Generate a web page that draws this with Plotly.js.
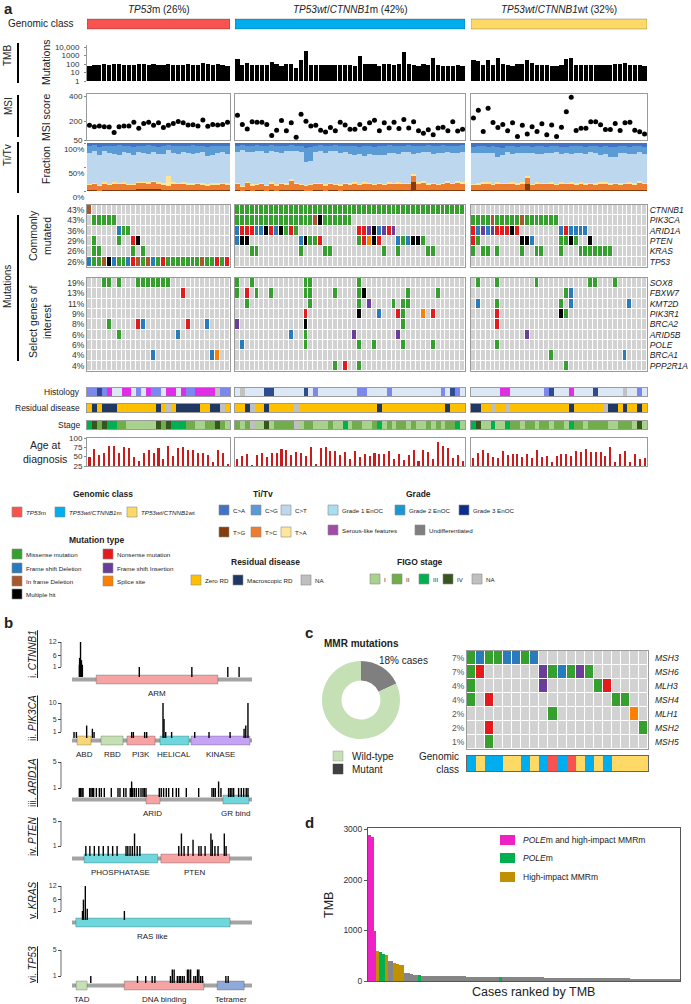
<!DOCTYPE html>
<html><head><meta charset="utf-8">
<script src="https://cdn.plot.ly/plotly-3.0.1.min.js"></script>
<style>html,body{margin:0;padding:0;background:#fff}#chart{width:691px;height:1004px}</style>
</head><body><div id="chart"></div>
<script>
// ================= DATA =================
const groupTitles = ['<i>TP53</i>m (26%)', '<i>TP53wt</i>/<i>CTNNB1</i>m (42%)', '<i>TP53wt</i>/<i>CTNNB1</i>wt (32%)'];
const groupSizes = [29, 47, 36];

const tmb = [
 55,70,75,90,70,110,90,75,75,80,95,110,80,100,85,70,95,80,75,80,100,75,80,120,90,80,100,85,60,
 370,85,140,75,75,75,75,165,90,60,95,115,36,300,3100,75,75,75,85,75,75,75,70,70,65,980,90,90,115,60,90,90,85,90,2600,90,75,60,90,75,570,75,60,60,65,70,65,
 280,240,75,300,80,470,95,75,60,100,110,300,150,75,70,75,65,60,75,440,450,75,75,75,70,75,80,80,85,95,110,120,75,70,70,60];

const msi = [
 167,156,162,156,154,110,156,162,162,192,144,182,192,167,187,149,167,182,197,187,169,172,162,210,159,174,169,174,192,
 246,174,138,195,192,192,174,85,128,205,123,187,72,254,200,162,167,128,113,149,123,192,170,136,136,174,141,187,208,123,187,146,192,141,213,146,195,123,103,131,92,146,151,123,195,121,136,
 226,287,118,303,190,149,174,123,187,77,167,97,156,118,179,92,169,77,151,274,390,126,144,144,195,195,172,133,133,182,126,187,192,128,115,97];

const tvTG = [
 2,2,1,3,2,2,3,2,2,3,4,4,5,5,4,3,2,3,2,3,3,2,2,3,2,2,3,2,2,
 2,1,2,1,2,2,1,2,1,2,2,3,2,2,1,1,2,2,1,2,2,1,2,2,3,2,2,2,2,2,2,3,2,2,2,3,18,3,3,2,2,2,3,3,2,3,2,
 2,2,3,2,2,2,3,2,2,2,3,14,2,2,3,2,2,2,3,2,2,2,3,2,2,2,2,3,2,2,3,2,2,2,3,2];
const tvTC = [
 10,12,9,11,10,12,11,13,10,9,12,12,10,13,11,10,8,11,12,12,10,11,12,10,9,11,10,12,11,
 12,8,14,10,11,12,9,13,10,12,11,18,12,10,9,11,12,13,10,12,11,10,12,11,12,10,13,12,11,12,10,11,12,13,12,11,14,12,13,11,12,10,11,13,12,14,12,
 10,11,12,13,10,12,11,12,13,11,12,14,10,12,11,12,13,10,11,12,13,11,12,10,12,11,13,12,11,12,10,12,13,11,14,12];
const tvTA = [
 3,2,3,4,3,4,3,3,3,2,3,3,4,3,3,3,22,4,3,3,3,4,3,4,3,3,3,3,3,
 3,2,3,3,2,3,2,3,3,2,3,4,3,2,2,3,3,2,3,3,2,3,3,3,4,3,3,3,2,3,3,4,3,3,3,3,3,3,4,3,3,3,3,4,3,3,4,
 3,3,4,3,3,4,3,3,3,4,3,3,3,4,3,3,3,3,4,3,3,3,3,4,3,3,3,3,4,3,3,3,3,3,4,3];
const tvCT = [
 64,67,61,66,64,59,58,64,64,62,63,61,58,61,59,61,53,62,61,63,63,61,62,65,58,60,63,65,61,
 65,74,63,67,68,67,67,66,68,64,68,58,66,67,48,48,65,67,66,67,68,66,65,62,56,62,55,60,61,57,61,62,63,59,65,65,43,62,62,66,61,65,62,62,63,59,63,
 65,64,60,61,64,52,59,64,60,63,62,49,64,60,61,63,61,66,59,62,59,64,62,61,65,63,58,60,54,53,64,63,59,61,61,61];
const tvCG = [
 14,12,18,10,15,16,20,12,14,16,12,14,18,12,15,16,10,14,16,12,15,17,14,12,20,18,14,12,16,
 12,10,11,13,12,10,14,11,12,13,10,12,11,12,30,28,12,11,13,10,12,14,11,16,18,15,20,17,16,19,18,15,14,16,12,13,15,14,12,13,15,14,16,12,13,15,14,
 12,13,15,12,14,22,14,13,15,12,14,13,12,15,16,12,14,13,15,12,16,14,13,15,12,14,16,15,20,22,14,13,15,16,12,14];
const tvCA = [
 7,5,8,6,6,7,5,6,7,8,6,6,5,6,8,7,5,6,6,7,6,5,7,6,8,6,7,6,7,
 6,5,7,6,5,6,7,5,6,7,6,5,6,7,10,9,6,5,7,6,5,6,7,6,7,8,7,6,8,7,6,5,6,7,6,5,7,6,6,5,7,6,5,6,7,6,5,
 8,7,6,9,7,8,10,6,7,8,6,7,9,7,6,8,7,6,8,9,7,6,7,8,6,7,8,7,9,8,6,7,8,7,6,8];

// mutation codes: 0 none,1 missense,2 FS del,3 in-frame del,4 multiple hit,5 nonsense,6 FS ins,7 splice
const commonGenes = ['CTNNB1','PIK3CA','ARID1A','PTEN','KRAS','TP53'];
const commonPct = ['43%','43%','36%','29%','26%','26%'];
const selectGenes = ['SOX8','FBXW7','KMT2D','PIK3R1','BRCA2','ARID5B','POLE','BRCA1','PPP2R1A'];
const selectPct = ['19%','13%','11%','9%','8%','6%','6%','4%','4%'];

const mut_CTNNB1 = [
 3,0,0,0,0,0,0,0,0,0, 0,0,0,0,0,0,0,0,0,0, 0,0,0,0,0,0,0,0,0,
 1,1,1,1,1,1,1,1,1,1, 1,1,1,1,1,1,1,1,1,1, 1,1,1,1,1,1,1,1,1,1, 1,1,1,1,1,1,1,1,1,1, 1,1,1,1,1,1,1,
 0,0,0,0,0,0,0,0,0,0, 0,0,0,0,0,0,0,0,0,0, 0,0,0,0,0,0,0,0,0,0, 0,0,0,0,0,0];
const mut_PIK3CA = [
 0,1,1,1,1,1,0,0,0,0, 0,0,0,0,0,0,0,0,0,0, 0,0,0,0,0,0,0,0,0,
 1,1,1,1,1,1,1,1,1,1, 1,1,1,1,1,1,3,4,1,1, 1,1,1,1,0,0,0,0,0,0, 0,0,0,0,0,0,0,0,0,0, 0,0,0,0,0,0,0,
 1,1,1,1,3,1,1,1,1,1, 3,1,1,1,1,1,1,1,0,0, 0,0,0,0,0,0,0,0,0,0, 0,0,0,0,0,0];
const mut_ARID1A = [
 0,0,0,0,0,0,2,1,1,0, 0,0,0,0,0,0,0,0,0,0, 0,0,0,0,0,0,0,0,0,
 2,5,5,5,2,2,4,5,2,4, 1,5,1,0,0,0,0,0,0,0, 0,0,0,0,0,5,5,6,4,2, 6,5,6,0,0,0,0,0,0,0, 0,0,0,0,0,0,0,
 5,2,6,2,6,5,5,5,4,5, 0,0,0,0,0,0,0,0,2,5, 2,2,2,2,0,0,0,0,0,0, 0,0,0,0,0,0];
const mut_PTEN = [
 0,1,0,0,0,0,1,0,0,5, 4,0,0,0,0,0,0,0,0,0, 0,0,0,0,0,0,0,0,0,
 2,4,4,0,0,0,0,0,0,0, 0,0,0,2,4,1,1,5,0,0, 0,0,0,0,0,1,5,7,4,5, 0,0,0,2,1,2,4,4,1,0, 0,0,0,0,0,0,0,
 5,1,0,0,0,0,0,0,0,0, 4,4,2,0,0,0,0,0,1,1, 4,1,0,0,4,0,0,0,0,0, 0,0,0,0,0,0];
const mut_KRAS = [
 0,1,1,0,0,0,0,0,0,1, 0,1,0,0,0,0,0,0,0,0, 0,0,0,0,0,0,0,0,0,
 0,0,0,1,1,0,0,0,0,0, 0,0,0,1,0,0,0,0,1,1, 0,0,0,0,0,0,0,0,0,0, 1,0,0,1,0,0,0,0,0,1, 1,0,0,0,0,0,0,
 1,0,1,1,0,1,0,0,0,0, 1,0,0,1,1,0,0,0,1,0, 0,0,1,1,1,1,1,1,1,0, 0,0,0,0,0,0];
const mut_TP53 = [
 2,1,1,3,4,2,1,1,2,5, 3,1,3,2,1,5,1,1,1,1, 1,1,1,3,1,1,5,1,5,
 0,0,0,0,0,0,0,0,0,0, 0,0,0,0,0,0,0,0,0,0, 0,0,0,0,0,0,0,0,0,0, 0,0,0,0,0,0,0,0,0,0, 0,0,0,0,0,0,0,
 0,0,0,0,0,0,0,0,0,0, 0,0,0,0,0,0,0,0,0,0, 0,0,0,0,0,0,0,0,0,0, 0,0,0,0,0,0];
const mut_SOX8 = [
 0,0,0,1,1,0,1,0,0,0, 1,1,1,1,1,1,1,0,0,0, 0,0,0,0,0,0,0,0,0,
 1,0,0,1,0,0,0,0,0,0, 0,0,0,0,1,1,0,0,0,0, 0,0,0,0,0,1,0,0,0,0, 0,0,0,0,0,0,0,0,0,0, 0,0,0,0,0,0,0,
 0,1,0,0,0,1,0,0,0,0, 0,0,0,1,0,0,0,0,0,0, 0,0,0,0,1,1,0,0,0,1, 0,0,0,0,0,0];
const mut_FBXW7 = [
 0,0,0,0,0,0,0,0,0,0, 0,0,0,0,0,0,0,0,0,5, 0,0,0,0,0,0,0,0,0,
 1,0,5,0,1,0,0,1,0,0, 0,0,0,0,1,1,0,0,0,0, 1,0,0,0,0,1,4,0,0,0, 0,0,0,0,0,1,0,0,0,0, 0,1,0,0,0,0,0,
 0,0,0,0,0,0,0,0,0,0, 0,0,0,0,0,0,0,0,0,1, 2,0,0,0,0,0,0,0,0,0, 0,0,0,0,0,0];
const mut_KMT2D = [
 0,0,0,0,0,0,0,0,0,0, 0,0,0,0,0,0,0,0,0,0, 0,0,0,0,0,0,0,0,0,
 0,0,1,0,0,0,0,0,0,0, 0,0,0,0,0,1,0,0,0,0, 0,0,0,0,0,1,0,6,0,0, 0,0,1,0,1,1,0,0,0,0, 0,0,0,0,0,0,0,
 0,2,0,0,0,1,0,0,0,0, 0,0,0,0,0,0,0,0,1,0, 2,0,0,0,0,0,0,0,0,0, 0,0,2,0,0,0];
const mut_PIK3R1 = [
 0,0,0,0,0,0,0,0,0,0, 0,0,0,0,0,0,0,0,0,0, 0,0,0,0,0,0,0,0,0,
 0,0,0,0,0,0,0,0,0,0, 0,0,0,0,5,0,0,0,0,0, 0,0,0,0,0,4,0,0,0,2, 0,0,0,5,1,0,0,0,7,0, 5,0,0,0,0,0,0,
 0,0,0,0,0,5,0,0,0,0, 0,0,0,0,0,0,0,0,4,1, 0,0,0,0,0,0,0,0,0,0, 0,0,0,0,0,0];
const mut_BRCA2 = [
 0,0,0,0,1,0,0,0,0,0, 5,2,0,0,0,0,0,0,0,0, 5,0,0,0,2,0,0,0,0,
 6,0,0,0,0,0,0,0,0,0, 0,0,0,0,4,0,0,0,0,0, 0,0,0,0,0,0,0,0,0,0, 0,0,0,0,1,0,0,0,0,0, 0,0,0,0,0,0,0,
 0,0,0,0,0,5,0,0,0,0, 0,0,0,0,0,0,0,0,0,0, 0,0,0,0,0,0,0,0,0,0, 0,0,0,0,0,0];
const mut_ARID5B = [
 0,0,0,0,0,0,1,0,0,0, 0,0,0,0,0,0,0,0,2,0, 0,0,0,0,0,0,0,0,0,
 0,0,0,0,0,0,0,0,0,0, 0,2,0,0,1,0,0,0,0,0, 0,0,0,0,6,0,0,0,0,0, 0,0,0,6,0,0,0,0,0,0, 0,0,0,0,0,0,0,
 0,0,0,0,0,0,0,0,0,0, 0,6,0,0,0,0,0,0,0,0, 0,0,0,0,0,0,0,0,0,0, 0,0,0,0,0,0];
const mut_POLE = [
 0,0,0,0,0,0,0,0,0,0, 0,0,0,0,0,0,0,0,0,0, 0,0,0,0,0,0,0,0,0,
 0,2,0,0,0,0,0,0,0,0, 0,0,0,0,1,0,0,0,0,0, 0,0,0,0,0,1,0,0,1,0, 0,0,0,0,1,0,0,0,0,0, 1,0,0,0,0,0,0,
 0,0,0,0,0,1,0,0,0,0, 0,0,0,0,0,0,0,0,0,0, 0,0,0,0,0,0,0,0,0,0, 0,0,0,0,0,0];
const mut_BRCA1 = [
 0,0,0,0,0,0,0,0,0,0, 0,0,0,2,0,0,0,0,0,0, 0,0,0,0,0,2,7,0,0,
 0,0,0,0,0,0,0,0,0,0, 0,0,0,0,0,0,0,0,0,0, 0,0,0,0,0,0,0,0,0,0, 0,0,0,0,0,0,0,0,0,0, 0,0,0,0,0,0,0,
 0,0,0,0,0,0,0,0,0,0, 0,0,0,0,0,0,1,0,0,0, 0,0,0,0,0,0,0,0,0,0, 0,2,0,0,0,0];
const mut_PPP2R1A = [
 0,0,0,0,0,0,0,0,0,0, 0,0,0,0,0,0,0,0,0,0, 0,0,0,0,0,0,0,0,0,
 0,0,0,0,0,0,0,0,0,0, 0,0,0,0,0,0,0,0,0,0, 1,0,5,0,0,1,0,0,0,0, 0,0,0,0,0,0,0,0,0,0, 0,0,0,0,0,0,0,
 0,0,0,0,0,0,0,0,0,0, 0,0,0,0,0,0,0,0,0,1, 0,0,0,0,0,0,0,0,0,0, 0,0,0,0,0,0];

// histology: 1 G1, 2 G2, 3 G3, 4 serous-like, 5 undifferentiated
const histology = [
 2,2,3,2,4,1,1,4,4,1,2,1,4,2,2,1,4,4,1,4,2,2,4,4,4,4,5,2,2,
 1,5,1,1,1,1,3,3,1,1,1,1,1,1,3,1,2,1,1,1,1,1,1,1,1,2,2,1,1,1,1,2,1,1,1,1,1,1,1,1,1,1,2,1,3,2,1,
 1,1,1,1,1,1,4,4,1,1,1,1,1,1,1,2,3,1,1,1,4,1,1,1,1,3,1,1,1,1,1,5,1,1,2,1];
// residual disease: 1 zero, 2 macroscopic, 3 NA
const residual = [
 1,2,1,2,2,2,1,1,1,1,1,1,1,1,2,1,3,1,2,2,2,2,2,1,1,2,2,3,1,
 1,1,2,3,1,1,2,1,1,1,1,1,3,1,1,1,1,1,1,1,1,1,1,1,1,1,1,1,1,2,1,1,1,1,1,1,1,1,1,1,1,1,1,2,1,1,1,
 2,2,1,1,3,1,1,3,1,1,1,1,1,1,1,1,1,1,1,1,2,1,1,1,1,1,1,3,2,2,1,2,1,1,2,1];
// FIGO stage: 1 I, 2 II, 3 III, 4 IV, 5 NA
const stage = [
 3,4,2,4,3,3,2,2,1,1,1,1,1,1,4,2,4,3,3,3,2,2,1,1,2,2,4,2,1,
 2,1,2,5,1,1,4,1,2,2,2,2,5,1,2,2,1,1,1,2,1,1,3,1,2,2,1,1,2,3,1,2,1,2,2,1,2,1,1,2,1,2,1,2,2,3,1,
 3,4,1,1,3,1,1,3,2,2,1,2,2,1,2,2,1,2,2,1,3,2,2,1,2,2,2,2,1,1,2,2,2,1,4,1];
const age = [
 48,70,55,61,78,78,59,76,74,49,39,59,69,59,73,44,78,51,73,75,69,69,61,59,55,37,69,59,31,
 44,52,58,27,55,61,48,59,61,70,67,54,63,59,53,75,30,74,76,65,65,54,62,43,66,49,56,52,61,56,58,64,45,58,41,54,67,39,69,62,43,88,79,74,47,55,39,
 47,60,67,61,50,47,66,54,56,56,48,57,47,69,48,51,36,51,56,56,51,66,63,70,63,62,63,52,75,37,58,66,37,58,44,47];

// legend labels
const gcLabels = ['<i>TP53</i>m', '<i>TP53wt</i>/<i>CTNNB1</i>m', '<i>TP53wt</i>/<i>CTNNB1</i>wt'];
const mutLabels = ['Missense mutation','Frame shift Deletion','In frame Deletion','Multiple hit','Nonsense mutation','Frame shift Insertion','Splice site'];
const tvLabels = ['C&gt;A','C&gt;G','C&gt;T','T&gt;G','T&gt;C','T&gt;A'];
const rdLabels = ['Zero RD','Macroscopic RD','NA'];
const gradeLabels = ['Grade 1 EnOC','Grade 2 EnOC','Grade 3 EnOC','Serous-like features','Undifferentiated'];
const stageLabels = ['I','II','III','IV','NA'];

// panel b: lollipops (protein position, number of cases) and domains [name, start, end]
const ctnnb1Pos = [32,33,34,35,37,41,45,292,520,676,725];
const ctnnb1Cnt = [2,5,4,3,12,4,2,1,1,1,1];
const ctnnb1Dom = [['ARM',105,633]];
const pik3caPos = [12,26,87,121,131,354,364,431,443,540,546,556,591,728,813,938,1021,1031,1044];
const pik3caCnt = [1,1,3,2,1,1,1,1,1,10,5,1,1,1,1,1,2,3,10];
const pik3caDom = [['ABD',30,113],['RBD',172,303],['PI3K',326,493],['HELICAL',522,694],['KINASE',706,1056]];
const arid1aPos = [93,110,127,140,224,241,258,275,309,347,372,410,499,584,609,656,685,740,757,770,791,816,846,876,901,918,939,1108,1133,1163,1197,1227,1278,1324,1354,1451,1608,1777,1798,1819,1861,1891,1988,2009,2030,2052,2115,2149,2179,2212,2234];
const arid1aCnt = [1,1,1,1,1,1,1,1,1,1,1,1,1,1,1,1,1,1,2,1,1,1,1,1,1,1,1,1,1,1,1,1,1,1,1,1,1,1,1,1,2,1,1,1,1,1,1,1,1,1,1];
const arid1aDom = [['ARID',939,1117],['GR bind',1916,2246]];
const ptenPos = [31,40,50,60,70,81,91,101,121,125,130,135,140,146,152,239,245,251,260,271,284,289,298,311,314,320,327,341,345];
const ptenCnt = [1,1,1,1,1,1,1,1,1,1,1,1,3,1,1,1,3,1,1,2,1,1,1,3,2,1,1,3,1];
const ptenDom = [['PHOSPHATASE',27,192],['PTEN',199,353]];
const krasPos = [11,12,14,16,55];
const krasCnt = [1,6,12,2,1];
const krasDom = [['RAS like',4,166]];
const tp53Pos = [41,143,161,175,181,215,219,223,230,234,237,241,245,252,255,259,266,270,274,277,281,285,336,341];
const tp53Cnt = [1,1,1,1,1,1,2,2,1,1,1,1,1,2,2,2,1,1,2,2,1,1,1,1];
const tp53Dom = [['TAD',9,33],['DNA binding',114,288],['Tetramer',317,376]];
const geneLengths = {CTNNB1:781, PIK3CA:1068, ARID1A:2285, PTEN:403, KRAS:189, TP53:393};

// panel c
const mmrPieLabels = ['Mutant','Wild-type'];
const mmrPieValues = [18, 82];
const mmrGenes = ['MSH3','MSH6','MLH3','MSH4','MLH1','MSH2','MSH5'];
const mmrPct = ['7%','7%','4%','4%','2%','2%','1%'];
const mmr_MSH3 = [1,2,1,1,2,2,1,2,0,0,0,0,0,0,0,0,0,0,0,0];
const mmr_MSH6 = [1,5,0,0,0,0,0,0,6,1,2,1,6,1,0,0,0,0,0,0];
const mmr_MLH3 = [1,0,0,0,0,0,0,0,6,0,0,0,0,0,1,5,0,0,0,0];
const mmr_MSH4 = [1,0,5,0,0,0,0,0,0,0,0,0,0,0,0,0,1,1,0,0];
const mmr_MLH1 = [0,0,0,0,0,0,0,0,0,1,0,0,0,0,0,0,0,0,7,0];
const mmr_MSH2 = [0,0,5,0,0,0,0,0,0,0,0,0,0,0,0,0,0,0,0,1];
const mmr_MSH5 = [0,0,1,0,0,0,0,0,0,0,0,0,0,0,0,0,0,0,0,0];
const mmrClass = [2,3,2,2,3,3,2,3,2,1,2,1,3,2,3,2,3,3,3,3];

// panel d: TMB ranked
const tmbRanked = [2900,2850,1000,595,575,535,520,395,390,360,345,320,310,160,150,130,120,115,110,
 105,104,102,101,100,99,98,97,96,95,94,93,
 92,91,90,90,89,88,87,86,85,85,84,83,82,82,81,80,
 80,
 79,78,78,77,76,76,75,74,74,73,72,72,71,70,70,69,68,68,67,66,66,65,64,
 64,63,62,62,61,60,60,59,58,58,57,56,56,55,54,54,53,52,52,51,
 51,50,50,49,49,48,48,47,47,46,46,45,45,44,44,43,43,42,42,41,40];
const idxPoleMmr = [0,1,2];
const idxPole = [4,5,18,47];
const idxMmr = [3,6,9,10,11,12];
const dLegend = ['<i>POLE</i>m and high-impact MMRm','<i>POLE</i>m','High-impact MMRm'];

// ================= STYLE / HELPERS =================
const W = 691, H = 1004;
const FONT = 'Liberation Sans, Arial, sans-serif';
const X = v => v / W, Y = v => 1 - v / H;
const N = groupSizes.reduce((a,b)=>a+b,0);
[['tmb',tmb],['msi',msi],['tvTG',tvTG],['tvTC',tvTC],['tvTA',tvTA],['tvCT',tvCT],['tvCG',tvCG],['tvCA',tvCA],
 ['CTNNB1',mut_CTNNB1],['PIK3CA',mut_PIK3CA],['ARID1A',mut_ARID1A],['PTEN',mut_PTEN],['KRAS',mut_KRAS],['TP53',mut_TP53],
 ['SOX8',mut_SOX8],['FBXW7',mut_FBXW7],['KMT2D',mut_KMT2D],['PIK3R1',mut_PIK3R1],['BRCA2',mut_BRCA2],['ARID5B',mut_ARID5B],
 ['POLE',mut_POLE],['BRCA1',mut_BRCA1],['PPP2R1A',mut_PPP2R1A],['hist',histology],['rd',residual],['stage',stage],['age',age],['tmbRanked',tmbRanked]
].forEach(([n,a]) => { if (a.length !== N) throw new Error(n + ' has length ' + a.length); });

const OFF = [0, groupSizes[0], groupSizes[0] + groupSizes[1]];
const seg = (arr, g) => arr.slice(OFF[g], OFF[g] + groupSizes[g]);
const idx = n => Array.from({length:n}, (_, i) => i);
const GX = [[87,230],[235,465],[471,647]];

const mutColors = ['#d2d2d2','#35a02e','#2a7bbb','#a9582b','#000000','#e41a1c','#6b3d9a','#ff7f00'];
const gcColors = ['#f8534f','#00aeef','#ffd966'];
const tvColors = {CA:'#4472c4', CG:'#5b9bd5', CT:'#bdd7ee', TG:'#843c0c', TC:'#ed7d31', TA:'#ffe699'};
const histColors = ['#dce8f5','#7c88ee','#2d4b8f','#df2ee6','#c2c2c2'];
const gradeLegendColors = ['#a8def0','#1a97d5','#0d2f8c','#a24aa6','#7f7f7f'];
const rdColors = ['#ffc000','#1f3763','#bfbfbf'];
const stageColors = ['#a9d18e','#72ad4c','#00b050','#37561f','#bfbfbf'];

function dscale(colors){ const n = colors.length, s = []; colors.forEach((c,i)=>{ s.push([i/n,c]); s.push([(i+1)/n,c]); }); return s; }

const layout = {width:W, height:H, margin:{l:0,r:0,t:0,b:0}, paper_bgcolor:'#ffffff', plot_bgcolor:'rgba(0,0,0,0)',
  showlegend:false, barmode:'stack', bargap:0, hovermode:false, font:{family:FONT, size:9, color:'#222'},
  annotations:[], shapes:[]};
const data = [];
let nAx = 0;
function mk(xd, yd, xo, yo){
  nAx++; const s = nAx === 1 ? '' : String(nAx);
  const base = {showgrid:false, zeroline:false, showticklabels:false, ticks:'', fixedrange:true, showline:false};
  layout['xaxis'+s] = Object.assign({}, base, {domain:[X(xd[0]), X(xd[1])], anchor:'y'+s}, xo || {});
  layout['yaxis'+s] = Object.assign({}, base, {domain:[Y(yd[1]), Y(yd[0])], anchor:'x'+s}, yo || {});
  return {x:'x'+s, y:'y'+s};
}
function T(x, y, text, size, o){
  layout.annotations.push(Object.assign({xref:'paper', yref:'paper', x:X(x), y:Y(y), text:text, showarrow:false,
    xanchor:'left', yanchor:'middle', font:{family:FONT, size:size || 9, color:'#222'}}, o || {}));
}
function R(x0, y0, x1, y1, fill, lc, lw){
  layout.shapes.push({type:'rect', xref:'paper', yref:'paper', x0:X(x0), x1:X(x1), y0:Y(y1), y1:Y(y0),
    fillcolor:fill, line:{color:lc || fill, width:lw == null ? 0 : lw}});
}
function L(x0, y0, x1, y1, c, w){
  layout.shapes.push({type:'line', xref:'paper', yref:'paper', x0:X(x0), x1:X(x1), y0:Y(y0), y1:Y(y1), line:{color:c, width:w}});
}
const frame = {showline:true, mirror:true, linecolor:'#9b9b9b', linewidth:1};
const tf = {size:8, color:'#333', family:FONT};

// ================= PANEL A =================
T(2, 9, '<b>a</b>', 15);
T(76, 24, 'Genomic class', 10, {xanchor:'right'});

for (let g = 0; g < 3; g++){
  const n = groupSizes[g];
  // TMB
  const a1 = mk(GX[g], [45,81], {range:[-0.5, n-0.5]}, Object.assign({type:'log', range:[0, 4.24]},
    g === 0 ? {showticklabels:true, tickvals:[1,10,100,1000,10000], ticktext:['1','10','100','1000','10,000'], ticks:'outside',
      ticklen:2, tickcolor:'#888', showline:true, linecolor:'#999', linewidth:1, tickfont:tf, ticklabelstandoff:3} : {}));
  data.push({type:'bar', x:idx(n), y:seg(tmb,g), xaxis:a1.x, yaxis:a1.y, width:0.86, marker:{color:'#000', line:{width:0}}});
  // header bar + title
  layout.shapes.push({type:'rect', xref:a1.x, yref:'paper', x0:-0.5, x1:n-0.5, y0:Y(29), y1:Y(19),
    fillcolor:gcColors[g], line:{color:'rgba(0,0,0,0.3)', width:0.8}});
  layout.annotations.push({xref:'paper', yref:'paper', x:X((GX[g][0]+GX[g][1])/2), y:Y(10), text:groupTitles[g], showarrow:false,
    xanchor:'center', yanchor:'middle', font:{family:FONT, size:10, color:'#222'}});

  // MSI
  const a2 = mk(GX[g], [94,140], Object.assign({range:[-0.5, n-0.5]}, frame), Object.assign({range:[50, 416]}, frame,
    g === 0 ? {showticklabels:true, tickvals:[50,200,400], ticks:'outside', ticklen:2, tickcolor:'#888', tickfont:tf} : {}));
  data.push({type:'scatter', mode:'markers', x:idx(n), y:seg(msi,g), xaxis:a2.x, yaxis:a2.y, marker:{color:'#000', size:5}, cliponaxis:false});

  // Ti/Tv
  const a3 = mk(GX[g], [143,191], {range:[-0.5, n-0.5]}, Object.assign({range:[0,100]},
    g === 0 ? {showticklabels:true, tickvals:[0,50,100], ticktext:['0%','50%','100%'], ticks:'outside', ticklen:2, tickcolor:'#888',
      tickfont:tf, ticklabelposition:'outside bottom'} : {}));
  [['TG',tvTG],['TC',tvTC],['TA',tvTA],['CT',tvCT],['CG',tvCG],['CA',tvCA]].forEach(([k, arr]) => {
    data.push({type:'bar', x:idx(n), y:seg(arr,g), xaxis:a3.x, yaxis:a3.y, width:1, marker:{color:tvColors[k], line:{width:0}}});
  });

  // commonly mutated
  const a4 = mk(GX[g], [205,267], Object.assign({range:[-0.5, n-0.5]}, frame), Object.assign({range:[5.5,-0.5]}, frame,
    g === 0 ? {showticklabels:true, tickvals:idx(6), ticktext:commonPct, tickfont:{size:8.5, color:'#333', family:FONT}} :
    g === 2 ? {side:'right', showticklabels:true, tickvals:idx(6), ticktext:commonGenes.map(s=>'<i>'+s+'</i>'), tickfont:{size:8.5, color:'#222', family:FONT}} : {}));
  data.push({type:'heatmap', z:[mut_CTNNB1,mut_PIK3CA,mut_ARID1A,mut_PTEN,mut_KRAS,mut_TP53].map(r=>seg(r,g)), x:idx(n), y:idx(6),
    xaxis:a4.x, yaxis:a4.y, colorscale:dscale(mutColors), zmin:-0.5, zmax:7.5, showscale:false, xgap:1, ygap:1, hoverinfo:'skip'});

  // select genes
  const a5 = mk(GX[g], [278,371], Object.assign({range:[-0.5, n-0.5]}, frame), Object.assign({range:[8.5,-0.5]}, frame,
    g === 0 ? {showticklabels:true, tickvals:idx(9), ticktext:selectPct, tickfont:{size:8.5, color:'#333', family:FONT}} :
    g === 2 ? {side:'right', showticklabels:true, tickvals:idx(9), ticktext:selectGenes.map(s=>'<i>'+s+'</i>'), tickfont:{size:8.5, color:'#222', family:FONT}} : {}));
  data.push({type:'heatmap', z:[mut_SOX8,mut_FBXW7,mut_KMT2D,mut_PIK3R1,mut_BRCA2,mut_ARID5B,mut_POLE,mut_BRCA1,mut_PPP2R1A].map(r=>seg(r,g)),
    x:idx(n), y:idx(9), xaxis:a5.x, yaxis:a5.y, colorscale:dscale(mutColors), zmin:-0.5, zmax:7.5, showscale:false, xgap:1, ygap:1, hoverinfo:'skip'});

  // clinical tracks
  [[histology, histColors, [388,396]], [residual, rdColors, [404,412]], [stage, stageColors, [421,429]]].forEach(([arr, cols, yd]) => {
    const a = mk(GX[g], yd, Object.assign({range:[-0.5, n-0.5]}, frame), Object.assign({range:[-0.5,0.5]}, frame));
    data.push({type:'heatmap', z:[seg(arr,g)], x:idx(n), y:[0], xaxis:a.x, yaxis:a.y, colorscale:dscale(cols),
      zmin:0.5, zmax:cols.length+0.5, showscale:false, hoverinfo:'skip'});
  });

  // age
  const a6 = mk(GX[g], [438,466], Object.assign({range:[-0.5, n-0.5]}, frame), Object.assign({range:[25,100]}, frame,
    g === 0 ? {showticklabels:true, tickvals:[25,50,75,100], ticks:'outside', ticklen:2, tickcolor:'#888', tickfont:tf} : {}));
  data.push({type:'bar', x:idx(n), y:seg(age,g), xaxis:a6.x, yaxis:a6.y, width:0.42, marker:{color:'#cc1b1b', line:{width:0}}});
}

// left labels
[['TMB',55,[43,83]],['MSI',106,[95,137]],['Ti/Tv',155,[142,193]],['Mutations',287,[215,361]]].forEach(([t, yc, ln]) => {
  T(8, yc, t, 10, {textangle:-90, xanchor:'center'});
  L(18, ln[0], 18, ln[1], '#000', 2);
});
T(46, 62, 'Mutations', 10.5, {textangle:-90, xanchor:'center'});
T(46, 118, 'MSI score', 10.5, {textangle:-90, xanchor:'center'});
T(46, 165, 'Fraction', 10.5, {textangle:-90, xanchor:'center'});
T(40, 236, 'Commonly<br>mutated', 10.5, {textangle:-90, xanchor:'center'});
T(40, 322, 'Select genes of<br>interest', 10.5, {textangle:-90, xanchor:'center'});
T(82, 392, 'Histology', 8.5, {xanchor:'right'});
T(82, 408, 'Residual disease', 8.5, {xanchor:'right'});
T(82, 425, 'Stage', 8.5, {xanchor:'right'});
T(45, 452, 'Age at<br>diagnosis', 10.5, {xanchor:'center'});

// ---- legends ----
const LF = 6.2;
function item(x, y, color, text){ R(x, y-5, x+10, y+5, color, '#8a8a8a', 0.6); T(x+12, y, text, LF); }
T(103, 494, '<b>Genomic class</b>', 8.5, {xanchor:'center'});
[12, 55, 127].forEach((x,i) => item(x, 512, gcColors[i], gcLabels[i]));
T(97, 540, '<b>Mutation type</b>', 8.5, {xanchor:'center'});
[[12,554],[12,568],[12,581],[12,594],[103,554],[103,568],[103,581]].forEach((p,i) => item(p[0], p[1], mutColors[i+1], mutLabels[i]));
T(263, 494, '<b>Ti/Tv</b>', 8.5, {xanchor:'center'});
['CA','CG','CT','TG','TC','TA'].forEach((k,i) => item([219,251,281][i%3], i<3 ? 510 : 532, tvColors[k], tvLabels[i]));
T(265, 562, '<b>Residual disease</b>', 8.5, {xanchor:'center'});
[191,233,301].forEach((x,i) => item(x, 580, rdColors[i], rdLabels[i]));
T(418, 494, '<b>Grade</b>', 8.5, {xanchor:'center'});
[[328,510],[395,510],[459,510],[328,530],[415,530]].forEach((p,i) => item(p[0], p[1], gradeLegendColors[i], gradeLabels[i]));
T(420, 562, '<b>FIGO stage</b>', 8.5, {xanchor:'center'});
[370,392,419,443,472].forEach((x,i) => item(x, 579, stageColors[i], stageLabels[i]));

// ================= PANEL B =================
T(2, 622, '<b>b</b>', 15);
const domColors = {ARM:'#f5a3a3', ABD:'#f8d77a', RBD:'#c5e0b4', PI3K:'#f5a3a3', HELICAL:'#6fd6dc', KINASE:'#c4a3f5',
  ARID:'#f5a3a3', 'GR bind':'#6fd6dc', PHOSPHATASE:'#6fd6dc', PTEN:'#f5a3a3', 'RAS like':'#6fd6dc', TAD:'#c5e0b4',
  'DNA binding':'#f5a3a3', Tetramer:'#8eaadb'};
const bGenes = [
  {lab:'i.', gene:'CTNNB1', pos:ctnnb1Pos, cnt:ctnnb1Cnt, dom:ctnnb1Dom, ticks:[1,6,12], one:667, topPx:642, bb:677, ly:654},
  {lab:'ii.', gene:'PIK3CA', pos:pik3caPos, cnt:pik3caCnt, dom:pik3caDom, ticks:[1,5,10], one:732, topPx:703, bb:738, ly:718},
  {lab:'iii.', gene:'ARID1A', pos:arid1aPos, cnt:arid1aCnt, dom:arid1aDom, ticks:[1,5], one:788, topPx:762, bb:797, ly:782},
  {lab:'iv.', gene:'PTEN', pos:ptenPos, cnt:ptenCnt, dom:ptenDom, ticks:[1,5], one:846, topPx:821, bb:856, ly:836},
  {lab:'v.', gene:'KRAS', pos:krasPos, cnt:krasCnt, dom:krasDom, ticks:[1,6,12], one:911, topPx:886, bb:920, ly:900},
  {lab:'vi.', gene:'TP53', pos:tp53Pos, cnt:tp53Cnt, dom:tp53Dom, ticks:[1,5], one:976, topPx:950, bb:983, ly:964}
];
bGenes.forEach(c => {
  const len = geneLengths[c.gene];
  const top = c.ticks[c.ticks.length-1];
  const unit = (c.one - c.topPx) / (top - 1);
  const rmin = 1 - (c.bb - c.one) / unit;
  const rmax = top + 3 / unit;
  const a = mk([72,252], [c.topPx-3, c.bb], {range:[0, len]}, {range:[rmin, rmax], anchor:'free', position:X(61),
    showticklabels:true, tickvals:c.ticks, ticks:'outside', ticklen:3, tickcolor:'#444', tickfont:{size:7, color:'#333', family:FONT}});
  layout.shapes.push({type:'rect', xref:a.x, yref:'paper', x0:0, x1:len, y0:Y(c.bb+4.5), y1:Y(c.bb+0.5), fillcolor:'#a3a3a3', line:{width:0}, layer:'below'});
  c.dom.forEach(d => {
    layout.shapes.push({type:'rect', xref:a.x, yref:'paper', x0:d[1], x1:d[2], y0:Y(c.bb+7), y1:Y(c.bb-2), fillcolor:domColors[d[0]],
      line:{color:'rgba(0,0,0,0.35)', width:0.6}, layer:'below'});
    layout.annotations.push({xref:a.x, yref:'paper', x:(d[1]+d[2])/2, y:Y(c.bb+16), text:d[0], showarrow:false, xanchor:'center', yanchor:'middle',
      font:{family:FONT, size:8, color:'#222'}});
  });
  layout.shapes.push({type:'line', xref:'paper', yref:a.y, x0:X(61), x1:X(61), y0:1, y1:top, line:{color:'#444', width:0.8}});
  const xs = [], ys = [];
  c.pos.forEach((p,i) => { xs.push(p, p, null); ys.push(rmin, c.cnt[i], null); });
  data.push({type:'scatter', mode:'lines', x:xs, y:ys, xaxis:a.x, yaxis:a.y, line:{color:'#000', width:1.4}, connectgaps:false});
  T(32, c.ly, '<span style="text-decoration:underline">' + c.lab + ' <i>' + c.gene + '</i></span>', 10, {textangle:-90, xanchor:'center'});
});

// ================= PANEL C =================
T(303, 632, '<b>c</b>', 15);
T(362, 643, '<b>MMR mutations</b>', 10, {xanchor:'center'});
data.push({type:'pie', labels:mmrPieLabels, values:mmrPieValues, marker:{colors:['#7f7f7f','#c5e0b4'], line:{width:0}}, hole:0.5,
  sort:false, direction:'clockwise', rotation:0, textinfo:'none', domain:{x:[X(322), X(400)], y:[Y(739), Y(661)]}, showlegend:false});
T(377, 660, '18% cases', 10);
R(333, 751, 343, 761, '#c5e0b4', '#999', 0.5); T(350, 756, 'Wild-type', 10);
R(333, 764, 343, 774, '#404040', '#404040', 0.5); T(350, 769, 'Mutant', 10);

const am = mk([467,648], [651,749], Object.assign({range:[-0.5,19.5]}, frame), Object.assign({range:[6.5,-0.5]}, frame,
  {showticklabels:true, tickvals:idx(7), ticktext:mmrPct, tickfont:{size:8.5, color:'#555', family:FONT}}));
data.push({type:'heatmap', z:[mmr_MSH3,mmr_MSH6,mmr_MLH3,mmr_MSH4,mmr_MLH1,mmr_MSH2,mmr_MSH5], x:idx(20), y:idx(7), xaxis:am.x, yaxis:am.y,
  colorscale:dscale(mutColors), zmin:-0.5, zmax:7.5, showscale:false, xgap:1, ygap:1, hoverinfo:'skip'});
mmrGenes.forEach((gname, i) => layout.annotations.push({xref:'paper', yref:am.y, x:X(653), y:i, text:'<i>'+gname+'</i>', showarrow:false,
  xanchor:'left', yanchor:'middle', font:{family:FONT, size:8.5, color:'#222'}}));
const ac = mk([467,648], [756,771], {range:[-0.5,19.5], showline:true, mirror:true, linecolor:'#666', linewidth:1},
  {range:[-0.5,0.5], showline:true, mirror:true, linecolor:'#666', linewidth:1});
data.push({type:'heatmap', z:[mmrClass], x:idx(20), y:[0], xaxis:ac.x, yaxis:ac.y, colorscale:dscale(gcColors), zmin:0.5, zmax:3.5, showscale:false, hoverinfo:'skip'});
T(461, 763, 'Genomic<br>class', 10, {xanchor:'right', align:'right'});

// ================= PANEL D =================
T(303, 822, '<b>d</b>', 15);
const dColors = tmbRanked.map((v,i) => idxPoleMmr.includes(i) ? '#ee22c4' : idxPole.includes(i) ? '#00b050' : idxMmr.includes(i) ? '#bf9000' : '#858585');
const ad = mk([368,680], [828,981], {range:[-0.5, N-0.5], showline:true, mirror:true, linecolor:'#555', linewidth:1},
  {range:[0,3030], showline:true, mirror:true, linecolor:'#555', linewidth:1, showticklabels:true, tickvals:[0,1000,2000,3000],
   ticks:'outside', ticklen:3, tickcolor:'#555', tickfont:{size:8.5, color:'#333', family:FONT}});
data.push({type:'bar', x:idx(N), y:tmbRanked, xaxis:ad.x, yaxis:ad.y, width:1, marker:{color:dColors, line:{width:0}}});
T(329, 905, 'TMB', 12.5, {textangle:-90, xanchor:'center'});
T(533, 992, 'Cases ranked by TMB', 12.5, {xanchor:'center'});
['#ee22c4','#00b050','#bf9000'].forEach((c,i) => { const y = [840,858,877][i]; R(500, y-5, 515, y+5, c); T(521, y, dLegend[i], 8.5); });

Plotly.newPlot('chart', data, layout, {staticPlot:true, displayModeBar:false});
</script>
</body></html>
